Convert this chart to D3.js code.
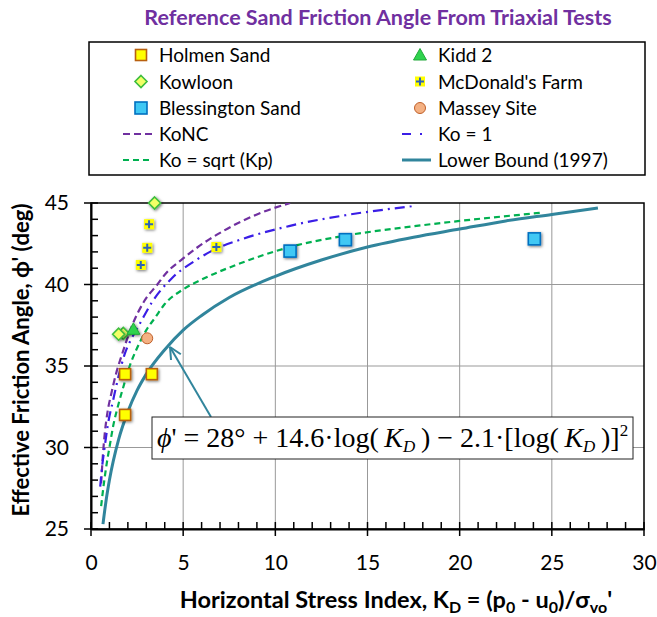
<!DOCTYPE html>
<html>
<head>
<meta charset="utf-8">
<script src="https://cdn.jsdelivr.net/npm/d3@7"></script>
<style>
  body { margin: 0; background: #fff; }
  text { font-family: Lato, "Open Sans", sans-serif; }
</style>
</head>
<body>
<div id="chart"></div>
<script>
// measured data points [KD, phi]
const holmenSand = [[1.85, 34.5], [3.3, 34.5], [1.85, 32.0]];
const kowloon = [[3.45, 45.0], [1.75, 37.0], [1.5, 36.95]];
const kidd2 = [[2.3, 37.25]];
const mcdonaldsFarm = [[3.15, 43.7], [3.05, 42.25], [2.7, 41.2], [6.8, 42.3]];
const blessingtonSand = [[10.8, 42.05], [13.8, 42.75], [24.05, 42.8]];
const masseySite = [[3.05, 36.7]];

// curves
const koNC = [[0.55, 27.8], [0.65, 29.6], [0.75, 30.9], [0.9, 32.2], [1.1, 33.3], [1.4, 34.7],
  [1.65, 35.6], [2.2, 37.4], [2.9, 39.0], [3.6, 40.0], [4.0, 40.6], [5.0, 41.6], [5.8, 42.3],
  [7.2, 43.3], [9.0, 44.3], [10.8, 45.0]];
const koOne = [[0.5, 27.6], [0.6, 28.8], [0.75, 30.1], [0.9, 31.3], [1.2, 32.9], [1.5, 34.4],
  [1.85, 35.8], [2.3, 36.9], [2.7, 37.7], [3.3, 38.9], [4.4, 40.4], [5.7, 41.5], [6.8, 42.2],
  [8.1, 42.75], [10.8, 43.6], [13.8, 44.25], [17.4, 44.8]];
const koSqrtKp = [[0.55, 26.4], [0.7, 27.8], [0.85, 29.0], [1.0, 30.0], [1.2, 31.3], [1.5, 32.7],
  [1.75, 33.7], [2.1, 35.0], [2.5, 36.1], [3.0, 37.2], [3.5, 38.0], [4.0, 38.8], [5.0, 39.7],
  [6.0, 40.3], [8.1, 41.3], [10.8, 42.3], [13.8, 43.0], [17.0, 43.5], [20.0, 43.9], [24.4, 44.4]];
const lowerBound = [[0.65, 25.3], [0.8, 26.6], [1.0, 28.0], [1.5, 30.5], [2.0, 32.2], [2.5, 33.5],
  [3.0, 34.5], [4.0, 36.0], [5.0, 37.2], [6.0, 38.1], [7.5, 39.2], [10.0, 40.5], [12.5, 41.5],
  [15.0, 42.3], [17.5, 42.9], [20.0, 43.4], [22.5, 43.9], [25.0, 44.3], [27.5, 44.7]];

const xTicks = [0, 5, 10, 15, 20, 25, 30];
const yTicks = [25, 30, 35, 40, 45];

const w = 657;
const h = 617;
const plotL = 91, plotR = 644, plotT = 203, plotB = 529;

const x = d3.scaleLinear().domain([0, 30]).range([plotL, plotR]);
const y = d3.scaleLinear().domain([25, 45]).range([plotB, plotT]);

const svg = d3.select('#chart')
              .append('svg')
              .attr('width', w)
              .attr('height', h);

// marker shadow
const defs = svg.append('defs');
defs.append('filter')
    .attr('id', 'shadow')
    .attr('x', '-50%').attr('y', '-50%')
    .attr('width', '200%').attr('height', '200%')
    .append('feDropShadow')
    .attr('dx', 1).attr('dy', 1)
    .attr('stdDeviation', 1.5)
    .attr('flood-color', '#000')
    .attr('flood-opacity', 0.55);

defs.append('clipPath')
    .attr('id', 'plotclip')
    .append('rect')
    .attr('x', plotL).attr('y', plotT)
    .attr('width', plotR - plotL).attr('height', plotB - plotT);

//Title
svg.append('text')
   .attr('x', 378)
   .attr('y', 25)
   .attr('text-anchor', 'middle')
   .style('font-size', '21.5px')
   .style('font-weight', 'bold')
   .style('fill', '#7030A0')
   .text('Reference Sand Friction Angle From Triaxial Tests');

//Grid
svg.append('g')
   .selectAll('line')
   .data(xTicks.slice(1, -1))
   .enter()
   .append('line')
   .attr('x1', d => x(d)).attr('x2', d => x(d))
   .attr('y1', plotT).attr('y2', plotB)
   .style('stroke', '#999').style('stroke-width', 1);

svg.append('g')
   .selectAll('line')
   .data(yTicks.slice(1, -1))
   .enter()
   .append('line')
   .attr('x1', plotL).attr('x2', plotR)
   .attr('y1', d => y(d)).attr('y2', d => y(d))
   .style('stroke', '#999').style('stroke-width', 1);

// frame
svg.append('rect')
   .attr('x', plotL).attr('y', plotT)
   .attr('width', plotR - plotL).attr('height', plotB - plotT)
   .style('fill', 'none')
   .style('stroke', '#000')
   .style('stroke-width', 1.5);

//Axes
const yAxis = d3.axisLeft(y).tickValues(yTicks).tickSize(0).tickPadding(22);
const xAxis = d3.axisBottom(x).tickValues(xTicks).tickSize(0).tickPadding(26);

const gy = svg.append('g').attr('transform', `translate(${plotL},0)`).call(yAxis);
const gx = svg.append('g').attr('transform', `translate(0,${plotB})`).call(xAxis);
[gx, gy].forEach(g => {
  g.select('.domain').style('stroke', '#000').style('stroke-width', 2);
  g.selectAll('text').style('font-size', '21px').style('fill', '#000')
   .style('font-family', 'Lato, sans-serif');
});

// minor and major tick marks
const minorY = d3.range(25, 46, 1);
svg.append('g')
   .selectAll('line')
   .data(minorY)
   .enter()
   .append('line')
   .attr('x1', d => d % 5 == 0 ? plotL - 7 : plotL)
   .attr('x2', plotL + 7)
   .attr('y1', d => y(d)).attr('y2', d => y(d))
   .style('stroke', '#000').style('stroke-width', 1.5);

const minorX = d3.range(0, 31, 1);
svg.append('g')
   .selectAll('line')
   .data(minorX)
   .enter()
   .append('line')
   .attr('y1', d => d % 5 == 0 ? plotB + 7 : plotB)
   .attr('y2', plotB - 7)
   .attr('x1', d => x(d)).attr('x2', d => x(d))
   .style('stroke', '#000').style('stroke-width', 1.5);

//Axis titles
svg.append('text')
   .attr('transform', 'translate(29,360) rotate(-90)')
   .attr('text-anchor', 'middle')
   .style('font-size', '22px')
   .style('font-weight', 'bold')
   .text("Effective Friction Angle, \u03D5' (deg)");

const xt = svg.append('text')
   .attr('x', 396)
   .attr('y', 608)
   .attr('text-anchor', 'middle')
   .style('font-size', '23.5px')
   .style('font-weight', 'bold');
xt.append('tspan').text('Horizontal Stress Index, K');
xt.append('tspan').attr('dy', 5).style('font-size', '16px').text('D');
xt.append('tspan').attr('dy', -5).text(' = (p');
xt.append('tspan').attr('dy', 5).style('font-size', '16px').text('0');
xt.append('tspan').attr('dy', -5).text(' - u');
xt.append('tspan').attr('dy', 5).style('font-size', '16px').text('0');
xt.append('tspan').attr('dy', -5).text(')/\u03C3');
xt.append('tspan').attr('dy', 5).style('font-size', '16px').text('vo');
xt.append('tspan').attr('dy', -5).text("'");

//Curves
const line = d3.line().x(d => x(d[0])).y(d => y(d[1])).curve(d3.curveMonotoneX);
const curves = [
  {data: koNC, color: '#7030A0', dash: '7,4', width: 2.2, name: 'KoNC'},
  {data: koOne, color: '#3A1EE6', dash: '10,5,2,5', width: 2.2, name: 'Ko = 1'},
  {data: koSqrtKp, color: '#00B050', dash: '6,4', width: 2.2, name: 'Ko = sqrt (Kp)'},
  {data: lowerBound, color: '#31859C', dash: null, width: 3, name: 'Lower Bound (1997)'}
];

const curveG = svg.append('g').attr('clip-path', 'url(#plotclip)');
curveG.selectAll('path')
   .data(curves)
   .enter()
   .append('path')
   .attr('d', d => line(d.data))
   .style('fill', 'none')
   .style('stroke', d => d.color)
   .style('stroke-width', d => d.width)
   .style('stroke-dasharray', d => d.dash);

//Equation box with arrow
const arrowFrom = [211, 417];
const arrowTo = [170, 347];
svg.append('line')
   .attr('x1', arrowFrom[0]).attr('y1', arrowFrom[1])
   .attr('x2', arrowTo[0]).attr('y2', arrowTo[1])
   .style('stroke', '#31859C').style('stroke-width', 2);
const ang = Math.atan2(arrowFrom[1] - arrowTo[1], arrowFrom[0] - arrowTo[0]);
[-0.45, 0.45].forEach(a => {
  svg.append('line')
     .attr('x1', arrowTo[0]).attr('y1', arrowTo[1])
     .attr('x2', arrowTo[0] + 13 * Math.cos(ang + a))
     .attr('y2', arrowTo[1] + 13 * Math.sin(ang + a))
     .style('stroke', '#31859C').style('stroke-width', 2);
});

svg.append('rect')
   .attr('x', 152).attr('y', 417)
   .attr('width', 481).attr('height', 42)
   .style('fill', '#fff')
   .style('stroke', '#222')
   .style('stroke-width', 1);

const eq = svg.append('text')
   .attr('x', 157)
   .attr('y', 447)
   .style('font-family', '"Liberation Serif", "DejaVu Serif", serif')
   .style('font-size', '28px');
eq.append('tspan').style('font-style', 'italic').text('\u03D5');
eq.append('tspan').text("' = 28\u00B0 + 14.6\u00B7log(\u2009");
eq.append('tspan').style('font-style', 'italic').text('K');
eq.append('tspan').attr('dy', 5).style('font-style', 'italic').style('font-size', '17px').text('D');
eq.append('tspan').attr('dy', -5).text('\u2009) \u2212 2.1\u00B7[log(\u2009');
eq.append('tspan').style('font-style', 'italic').text('K');
eq.append('tspan').attr('dy', 5).style('font-style', 'italic').style('font-size', '17px').text('D');
eq.append('tspan').attr('dy', -5).text('\u2009)]');
eq.append('tspan').attr('dy', -11).style('font-size', '17px').text('2');

//Markers
const drawMarker = (g, type) => {
  if (type == 'holmen') {
    g.append('rect').attr('x', -5.5).attr('y', -5.5).attr('width', 11).attr('height', 11)
     .style('fill', '#FFFF00').style('stroke', '#B8600F').style('stroke-width', 1.6);
  } else if (type == 'kowloon') {
    g.append('path').attr('d', 'M0,-6L6,0L0,6L-6,0Z')
     .style('fill', '#F2FF66').style('stroke', '#3DBE3D').style('stroke-width', 1.6);
  } else if (type == 'kidd') {
    g.append('path').attr('d', 'M0,-6.5L6.5,5L-6.5,5Z')
     .style('fill', '#2FD34E').style('stroke', '#22A83A').style('stroke-width', 1);
  } else if (type == 'mcdonald') {
    g.append('rect').attr('x', -5).attr('y', -5).attr('width', 10).attr('height', 10)
     .style('fill', '#FFFF00');
    g.append('path').attr('d', 'M-4,0H4M0,-4V4')
     .style('stroke', '#2F63B8').style('stroke-width', 2);
  } else if (type == 'blessington') {
    g.append('rect').attr('x', -6).attr('y', -6).attr('width', 12).attr('height', 12)
     .style('fill', '#3FC8F4').style('stroke', '#0070C0').style('stroke-width', 1.6);
  } else if (type == 'massey') {
    g.append('circle').attr('r', 5.5)
     .style('fill', '#F4B183').style('stroke', '#C0602A').style('stroke-width', 1);
  }
};

const series = [
  {data: holmenSand, type: 'holmen', name: 'Holmen Sand'},
  {data: kowloon, type: 'kowloon', name: 'Kowloon'},
  {data: blessingtonSand, type: 'blessington', name: 'Blessington Sand'},
  {data: kidd2, type: 'kidd', name: 'Kidd 2'},
  {data: mcdonaldsFarm, type: 'mcdonald', name: "McDonald's Farm"},
  {data: masseySite, type: 'massey', name: 'Massey Site'}
];

series.forEach(s => {
  svg.append('g')
     .selectAll('g')
     .data(s.data)
     .enter()
     .append('g')
     .attr('transform', d => `translate(${x(d[0])},${y(d[1])})`)
     .attr('filter', s.type == 'massey' ? null : 'url(#shadow)')
     .each(function () { drawMarker(d3.select(this), s.type); });
});

//Legend
const legend = svg.append('g').attr('id', 'legend');
legend.append('rect')
      .attr('x', 89).attr('y', 42)
      .attr('width', 556).attr('height', 133)
      .style('fill', '#fff')
      .style('stroke', '#000')
      .style('stroke-width', 1.5);

const rowY = [55, 81.5, 108, 134, 160];
const legendItems = [
  {col: 0, row: 0, marker: 'holmen', name: 'Holmen Sand'},
  {col: 0, row: 1, marker: 'kowloon', name: 'Kowloon'},
  {col: 0, row: 2, marker: 'blessington', name: 'Blessington Sand'},
  {col: 0, row: 3, curve: curves[0]},
  {col: 0, row: 4, curve: curves[2]},
  {col: 1, row: 0, marker: 'kidd', name: 'Kidd 2'},
  {col: 1, row: 1, marker: 'mcdonald', name: "McDonald's Farm"},
  {col: 1, row: 2, marker: 'massey', name: 'Massey Site'},
  {col: 1, row: 3, curve: curves[1]},
  {col: 1, row: 4, curve: curves[3]}
];
const colX = [141, 420];

legendItems.forEach(item => {
  const cx = colX[item.col];
  const cy = rowY[item.row];
  if (item.curve) {
    legend.append('line')
          .attr('x1', cx - 18).attr('x2', cx + 11)
          .attr('y1', cy).attr('y2', cy)
          .style('stroke', item.curve.color)
          .style('stroke-width', item.curve.width)
          .style('stroke-dasharray', item.curve.dash == '10,5,2,5' ? '9,9,2,9' : item.curve.dash);
  } else {
    const g = legend.append('g').attr('transform', `translate(${cx},${cy})`);
    drawMarker(g, item.marker);
  }
  legend.append('text')
        .attr('x', cx + 18)
        .attr('y', cy + 7)
        .style('font-size', '19px')
        .text(item.curve ? item.curve.name : item.name);
});
</script>
</body>
</html>
